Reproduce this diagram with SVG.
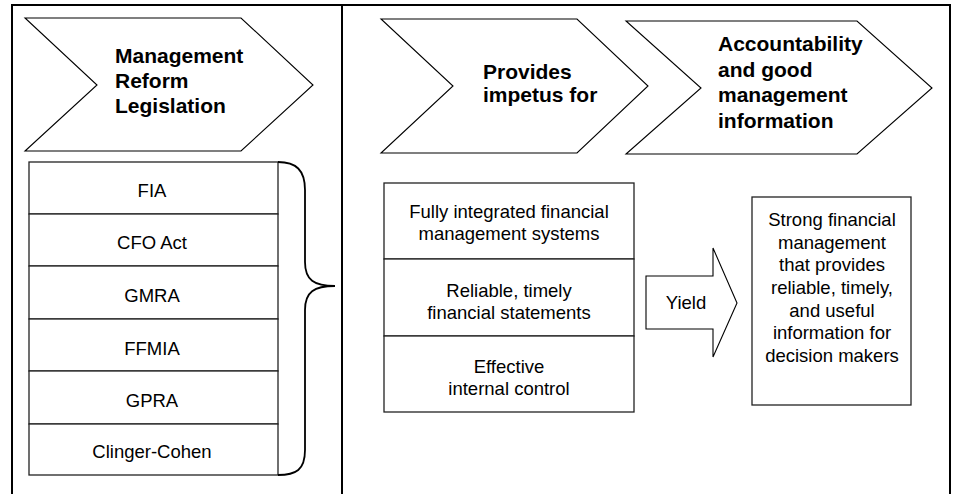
<svg xmlns="http://www.w3.org/2000/svg" width="954" height="494" viewBox="0 0 954 494">
<style>
.frame{fill:none;stroke:#000;stroke-width:2}
.shape{fill:#fff;stroke:#000;stroke-width:1.1}
.box{fill:#fff;stroke:#222;stroke-width:1.3}
.h{font-family:"Liberation Sans",Arial,sans-serif;font-weight:bold;font-size:21px;fill:#000}
.t{font-family:"Liberation Sans",Arial,sans-serif;font-size:18.5px;fill:#000;text-anchor:middle}
</style>
<rect width="954" height="494" fill="#fff"/>
<g id="frame">
<path class="frame" d="M12,494 V5 H950 V494"/>
<line class="frame" x1="342" y1="5" x2="342" y2="494"/>
</g>
<g id="chevron-legislation">
<polygon class="shape" points="25,18 241,18 313,85 241,151 25,151 97,85"/>
<text class="h" x="115" y="63">Management</text>
<text class="h" x="115" y="88">Reform</text>
<text class="h" x="115" y="113">Legislation</text>
</g>
<g id="chevron-impetus">
<polygon class="shape" points="381,19 577,19 648,86 577,153 381,153 453,86"/>
<text class="h" x="483" y="79">Provides</text>
<text class="h" x="483" y="102">impetus for</text>
</g>
<g id="chevron-accountability">
<polygon class="shape" points="626,21 857,21 932,88 857,154 626,154 701,88"/>
<text class="h" x="718" y="51">Accountability</text>
<text class="h" x="718" y="77">and good</text>
<text class="h" x="718" y="102">management</text>
<text class="h" x="718" y="128">information</text>
</g>
<g id="laws">
<rect class="box" x="29" y="162" width="249" height="52"/>
<text class="t" x="152" y="197">FIA</text>
<rect class="box" x="29" y="214" width="249" height="52"/>
<text class="t" x="152" y="249">CFO Act</text>
<rect class="box" x="29" y="266" width="249" height="53"/>
<text class="t" x="152" y="302">GMRA</text>
<rect class="box" x="29" y="319" width="249" height="52"/>
<text class="t" x="152" y="355">FFMIA</text>
<rect class="box" x="29" y="371" width="249" height="53"/>
<text class="t" x="152" y="407">GPRA</text>
<rect class="box" x="29" y="424" width="249" height="51"/>
<text class="t" x="152" y="458">Clinger-Cohen</text>
</g>
<g id="connectors">
<path d="M278,162 C296,162 305,170 305,190 V262 C305,280 314,286 335,286 C314,286 305,292 305,310 V450 C305,470 296,475 278,475" fill="none" stroke="#000" stroke-width="1.8"/>
<polygon class="shape" points="646,276 713,276 713,248 737,303 713,357 713,329 646,329"/>
<text class="t" x="686" y="309">Yield</text>
</g>
<g id="outcomes">
<rect class="box" x="384" y="183" width="250" height="76"/>
<text class="t" x="509" y="218">Fully integrated financial</text>
<text class="t" x="509" y="240">management systems</text>
<rect class="box" x="384" y="259" width="250" height="77"/>
<text class="t" x="509" y="297">Reliable, timely</text>
<text class="t" x="509" y="319">financial statements</text>
<rect class="box" x="384" y="336" width="250" height="76"/>
<text class="t" x="509" y="373">Effective</text>
<text class="t" x="509" y="395">internal control</text>
</g>
<g id="result">
<rect class="box" x="752" y="197" width="159" height="208"/>
<text class="t" x="832" y="226">Strong financial</text>
<text class="t" x="832" y="249">management</text>
<text class="t" x="832" y="271">that provides</text>
<text class="t" x="832" y="294">reliable, timely,</text>
<text class="t" x="832" y="317">and useful</text>
<text class="t" x="832" y="339">information for</text>
<text class="t" x="832" y="362">decision makers</text>
</g>
</svg>
